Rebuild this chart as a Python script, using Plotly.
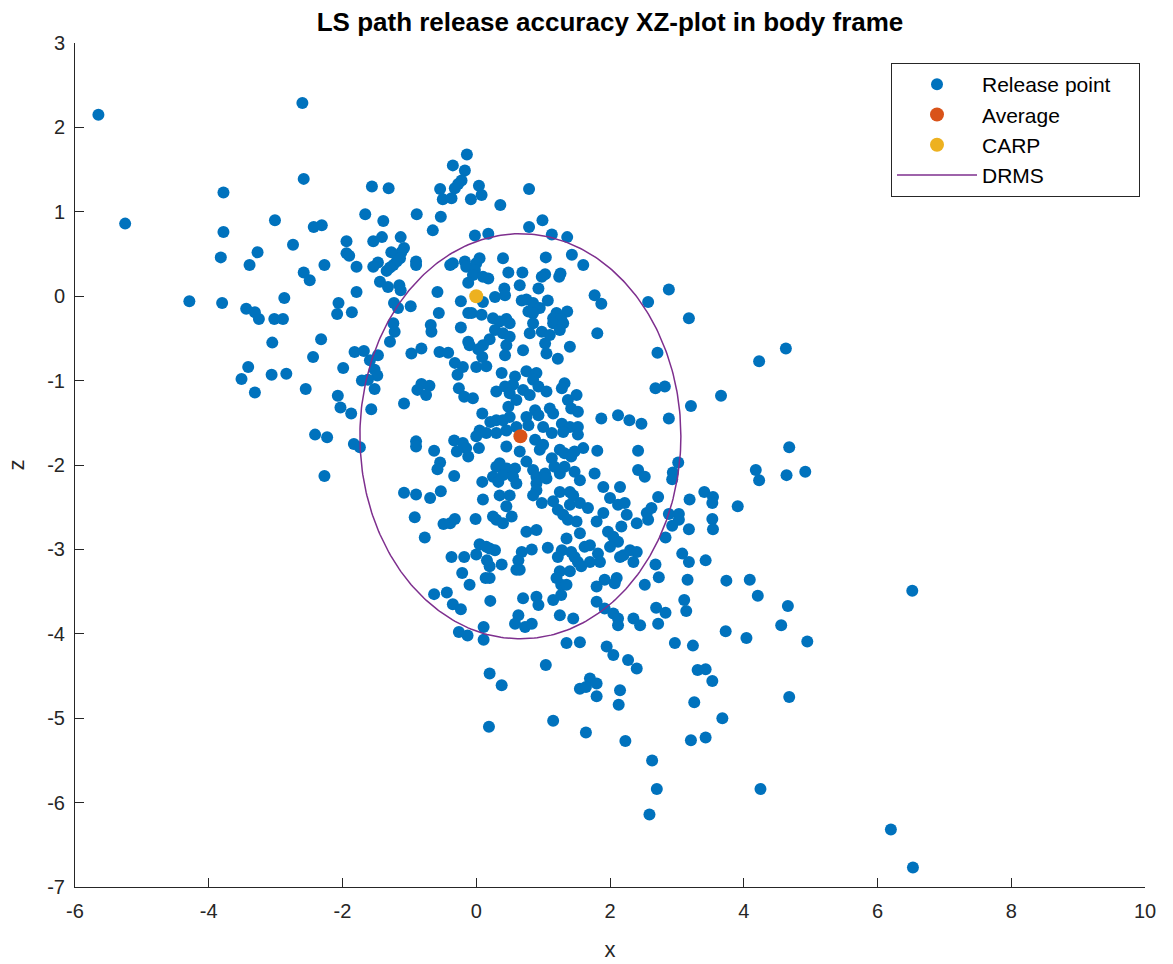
import numpy as np
import plotly.graph_objects as go

# Release points (x, z)
release_x = [
    -5.65, -2.60, -5.25, -2.58, -3.78, -3.01, -2.43, -2.31, -3.78, -2.74, -1.94, -3.27, -3.82, -1.94, -1.90, -3.39, -2.27, -1.79,
    -2.58, -2.49, -1.79, -4.29, -3.80, -2.87, -2.06, -2.08, -1.86, -3.44, -3.31, -3.25, -3.02, -2.89, -2.32, -3.05, -1.82, -2.44,
    -1.99, -3.41, -3.51, -3.06, -2.84, -3.31, -2.55, -1.71, -2.07, -2.03, -1.87, -2.41, -2.23, -1.83, -1.74, -2.27, -1.66, -1.68,
    -0.14, -0.35, -0.17, -0.22, -0.27, -0.32, 0.04, 0.08, -0.54, -1.56, -1.31, -0.50, -0.37, -0.08, 0.36, -0.89, -0.53, -1.39,
    -0.65, -0.02, 0.18, -1.13, -1.41, -1.54, -1.08, -1.12, -1.27, -1.14, -1.19, -1.24, -1.29, -1.34, -1.47, -1.54, -0.90, -0.90,
    -0.35, -0.39, -0.17, -0.15, 0.05, 0.00, -0.02, -0.05, 0.18, 0.10, -0.12, -1.44, -1.32, -1.15, -1.13, -0.58, -0.23, 0.10,
    0.28, -1.23, -1.17, -0.98, -0.56, -0.12, -0.07, 0.08,
    0.79, 0.99, 0.79, 1.13, 1.36, 0.40, 1.04, 1.43, 1.60, 0.48, 0.69, 1.03, 0.98, 1.26, 1.24, 0.65, 0.93, 0.42, 0.43, 1.77,
    1.87, 2.57, 0.68, 0.75, 0.85, 0.95, 1.07, 0.78, 0.85, 1.20, 1.36, 0.25, 0.45, 1.15, 1.27,
    -1.24, -1.22, -0.68, -0.67, -0.23, -1.29, -0.12, -0.10, 0.20, 0.10, 0.03, 0.09, -1.47, -0.97, -0.82, -0.55, -0.42, -1.59,
    -1.52, -1.48, -0.32, -0.20, -0.28, 0.00, 0.15, -1.62, -1.52, -0.82, -0.70, -0.88, -0.75, -0.26, -0.18, -0.05, 0.30, -1.08,
    -1.57, 0.09, 0.21, 0.05, 0.00, 0.15, 0.30, -0.90, -0.90, -0.33, -0.20, -0.15, -0.29, -0.12, 0.04, -0.63, -0.54, -0.58,
    -0.33, 0.09, 0.30, 0.25, 0.33, -1.08, -0.90, -0.53, -0.69, 0.35, 0.10,
    1.15, 1.30, 0.85, 0.98, 0.80, 1.10, 1.25, 0.35, 0.50, 0.28, 0.40, 0.50, 0.45, 0.43, 1.40, 0.70, 1.03, 1.05, 1.22, 1.81,
    0.38, 0.58, 0.75, 0.90, 0.85, 0.93, 1.05, 1.32, 1.28, 0.55, 0.43, 0.70, 0.80, 0.50, 0.48, 0.60, 1.37, 1.50, 1.42, 1.52,
    1.10, 1.15, 0.88, 0.93, 0.75, 0.50, 0.40, 1.87, 2.12, 2.29, 2.47,
    0.30, 0.45, 0.60, 0.78, 1.00, 1.28, 1.40, 1.52, 1.13, 1.30, 1.52, 0.88, 0.45, 0.65, 0.75, 0.95, 1.00, 1.13, 1.25, 1.32,
    1.47, 1.60, 1.81, 2.42, 1.42,
    0.35, 0.45, 0.58, 0.40, 0.55, 0.60, 0.85, 0.90, 1.03, 1.17, 1.25, 1.47, 1.32, 0.90, 0.90, 1.05, 1.55, 1.40, 1.25, 1.77,
    1.90, 2.15, 2.42, 2.52, 0.50, 0.85, 2.00,
    0.45, 0.53, 0.30, 0.40, 0.98, 1.15, 1.22, 1.30, 1.37, 1.45, 1.40, 1.55, 1.67, 1.50, 1.55, 1.80, 1.90, 2.12, 2.22, 2.25,
    2.40, 2.55,
    0.75, 0.90, 1.35, 1.07, 0.83, 0.68, 0.63, 0.65, 0.60, 0.20, 0.28, 0.38, 0.20, 1.28, 1.22, 1.42, 1.47, 1.52, 1.57, 1.62,
    1.70, 1.70, 1.82, 1.85, 1.97, 2.05, 2.12, 2.00, 2.17, 2.20, 2.30, 2.40, 2.35, 2.15, 1.25, 1.40,
    1.20, 1.27, 1.35, 1.92, 2.10, 2.07, 1.80, 2.52, 0.20, 0.70, 0.90, 0.93, 1.15, 1.27, 1.80, 1.92, 2.05, 2.12, 2.12, 2.35,
    2.45, 0.63, 0.58, 0.73, 0.83, 1.25, 1.45,
    1.35, 1.55, 1.95, 2.05, 2.27, 2.40, 1.04, 1.70, 1.80, 1.55, 0.38, 0.20,
    -0.92, -0.49, -0.39, -0.32, -0.01, 0.25, -0.77, 0.05, 0.15, -0.37, -0.18, 0.00, 0.16, -0.21, 0.14, -0.10, -0.63, -0.44,
    -0.35, -0.23, 0.21, -0.26, -0.13, 0.11, 0.11,
    2.88, 3.18, 2.71, 4.63, 4.23, 2.68, 2.82, 3.66, 3.21, 2.88, 4.68, 3.02, 2.94, 2.93, 4.18, 4.23, 4.64, 4.92, 3.41, 3.54,
    2.72, 3.19,
    3.53, 3.91, 2.62, 2.57, 2.88, 3.03, 3.03, 2.93, 3.18, 3.53, 3.54, 2.83, 3.08, 3.18, 3.43, 2.68, 2.73, 3.16, 3.74, 4.09,
    4.21, 3.11, 3.14, 2.69, 2.83, 4.66, 2.72, 4.56, 3.73, 4.04, 4.95, 2.97, 3.24, 3.31, 3.43, 3.53, 4.68, 3.26, 3.68, 3.21,
    3.43,
    0.19, 1.15, 1.64, 1.80, 1.64, 2.15, 2.13, 2.23, 2.63, 2.70, 2.59, 4.25, 6.20, 6.53, 6.52,
]
release_z = [
    2.15, 2.29, 0.86, 1.39, 1.23, 0.90, 0.82, 0.84, 0.76, 0.61, 0.65, 0.52, 0.46, 0.51, 0.48, 0.37, 0.37, 0.35,
    0.28, 0.19, 0.05, -0.06, -0.08, -0.02, -0.08, -0.21, -0.19, -0.15, -0.19, -0.27, -0.27, -0.27, -0.51, -0.55, -0.66, -0.72,
    -0.85, -0.84, -0.98, -0.93, -0.92, -1.14, -1.10, -1.00, -1.18, -1.32, -1.39, -1.64, -1.67, -1.75, -1.79, -2.13, 0.97, -0.65,
    1.68, 1.55, 1.49, 1.37, 1.33, 1.28, 1.31, 1.20, 1.27, 1.30, 1.28, 1.15, 1.16, 1.15, 1.08, 0.97, 0.94, 0.89,
    0.78, 0.72, 0.74, 0.70, 0.70, 0.65, 0.57, 0.52, 0.52, 0.45, 0.41, 0.37, 0.34, 0.30, 0.40, 0.35, 0.41, 0.37,
    0.39, 0.37, 0.41, 0.35, 0.45, 0.39, 0.31, 0.25, 0.21, 0.23, 0.16, 0.17, 0.11, 0.13, 0.07, 0.05, -0.06, -0.07,
    -0.01, -0.08, -0.14, -0.12, -0.20, -0.20, -0.20, -0.22,
    1.27, 0.90, 0.82, 0.73, 0.70, 0.45, 0.46, 0.49, 0.37, 0.28, 0.28, 0.26, 0.23, 0.27, 0.23, 0.13, 0.09, 0.09, 0.01, 0.01,
    -0.09, -0.07, -0.05, -0.04, -0.08, -0.14, -0.05, -0.18, -0.20, -0.20, -0.18, -0.26, -0.27, -0.26, -0.27,
    -0.32, -0.42, -0.34, -0.42, -0.37, -0.54, -0.54, -0.58, -0.51, -0.58, -0.63, -0.72, -0.70, -0.68, -0.62, -0.66, -0.67, -0.76,
    -0.87, -0.94, -0.79, -0.84, -0.93, -0.84, -0.83, -0.99, -1.10, -1.04, -1.06, -1.11, -1.17, -1.09, -1.19, -1.21, -1.13, -1.27,
    -1.34, -1.39, -1.49, -1.59, -1.66, -1.62, -1.47, -1.72, -1.78, -1.71, -1.74, -1.80, -1.84, -1.90, -1.80, -1.83, -1.97, -2.05,
    -2.13, -2.20, -2.02, -2.14, -2.20, -2.33, -2.35, -2.31, -2.39, -2.36, -2.41,
    -0.32, -0.32, -0.32, -0.42, -0.44, -0.46, -0.40, -0.30, -0.32, -0.40, -0.44, -0.48, -0.58, -0.70, -0.60, -0.64, -0.56, -0.68, -0.74, -0.44,
    -0.91, -0.95, -0.89, -0.91, -0.99, -1.07, -1.13, -1.03, -1.09, -1.05, -1.07, -1.11, -1.17, -1.15, -1.31, -1.23, -1.23, -1.17, -1.33, -1.37,
    -1.33, -1.39, -1.35, -1.41, -1.43, -1.43, -1.47, -1.45, -1.41, -1.47, -1.51,
    -1.62, -1.59, -1.55, -1.53, -1.55, -1.51, -1.55, -1.55, -1.62, -1.61, -1.64, -1.70, -1.78, -1.84, -1.96, -1.82, -1.76, -1.92, -1.82, -1.86,
    -1.84, -1.80, -1.83, -1.83, -1.90,
    -1.98, -2.04, -2.04, -2.12, -2.14, -2.22, -2.06, -2.14, -2.10, -2.02, -2.10, -2.08, -2.02, -2.22, -2.30, -2.16, -2.18, -2.32, -2.32, -2.10,
    -2.26, -2.26, -2.06, -2.14, -2.36, -2.36, -2.39,
    -2.49, -2.61, -2.65, -2.69, -2.45, -2.43, -2.53, -2.59, -2.65, -2.36, -2.47, -2.45, -2.51, -2.67, -2.81, -2.67, -2.57, -2.47, -2.45, -2.59,
    -2.69, -2.57,
    -2.79, -2.77, -2.87, -2.98, -3.00, -3.03, -3.13, -3.24, -3.24, -2.99, -3.01, -3.18, -3.20, -3.01, -3.09, -3.03, -3.09, -3.15, -3.20, -2.97,
    -2.95, -3.15, -3.05, -3.15, -2.79, -2.85, -2.91, -2.97, -2.73, -3.07, -3.01, -3.03, -3.15, -3.09, -3.26, -3.26,
    -3.34, -3.42, -3.42, -3.36, -3.34, -3.40, -3.44, -3.42, -3.34, -3.58, -3.56, -3.66, -3.60, -3.54, -3.62, -3.70, -3.76, -3.82, -3.90, -3.82,
    -3.90, -3.78, -3.88, -3.92, -3.88, -3.78, -3.82,
    -4.11, -4.10, -4.15, -4.25, -4.31, -4.41, -4.37, -4.53, -4.59, -4.65, -4.61, -4.47,
    -2.62, -2.70, -2.69, -2.64, -2.64, -2.61, -2.86, -2.94, -2.97, -3.09, -3.09, -3.06, -3.13, -3.28, -3.34, -3.42, -3.53, -3.51,
    -3.65, -3.71, -3.61, -3.98, -4.02, -3.92, -4.07,
    0.08, -0.26, -0.67, -0.62, -0.77, -1.09, -1.07, -1.18, -1.30, -1.45, -1.79, -1.97, -2.09, -2.17, -2.06, -2.18, -2.12, -2.08, -2.32, -2.38,
    -2.38, -2.41,
    -2.45, -2.49, -2.51, -2.65, -2.58, -2.58, -2.65, -2.72, -2.76, -2.64, -2.76, -2.86, -3.05, -3.15, -3.13, -3.18, -3.33, -3.36, -3.37, -3.36,
    -3.55, -3.60, -3.73, -3.69, -3.75, -3.67, -3.88, -3.90, -3.97, -4.05, -4.09, -4.11, -4.14, -4.43, -4.42, -4.56, -4.75, -4.81, -5.00, -5.26,
    -5.23,
    -5.10, -5.03, -4.63, -4.74, -5.17, -4.67, -4.84, -5.27, -5.50, -5.84, -6.14, -5.84, -6.32, -6.77, -3.49,
]

average_x = [0.66]
average_z = [-1.66]
carp_x = [0.0]
carp_z = [0.0]
drms_radius = 2.40

legend_names = ["Release point", "Average", "CARP", "DRMS"]
x_tick_vals = [-6, -4, -2, 0, 2, 4, 6, 8, 10]
x_tick_text = ["-6", "-4", "-2", "0", "2", "4", "6", "8", "10"]
z_tick_vals = [-7, -6, -5, -4, -3, -2, -1, 0, 1, 2, 3]
z_tick_text = ["-7", "-6", "-5", "-4", "-3", "-2", "-1", "0", "1", "2", "3"]

theta = np.linspace(0, 2 * np.pi, 361)
circle_x = average_x[0] + drms_radius * np.cos(theta)
circle_z = average_z[0] + drms_radius * np.sin(theta)

BLUE = "#0072BD"
ORANGE = "#D95319"
YELLOW = "#EDB120"
PURPLE = "#7E2F8E"
AX = "#262626"
FONT = "Liberation Sans, Arial, sans-serif"
PAD = "\u00a0" * 4  # extra right padding inside the legend box

fig = go.Figure()
fig.add_trace(go.Scatter(x=release_x, y=release_z, mode="markers", name=legend_names[0] + PAD,
                         marker=dict(color=BLUE, size=12, line=dict(width=0))))
fig.add_trace(go.Scatter(x=average_x, y=average_z, mode="markers", name=legend_names[1],
                         marker=dict(color=ORANGE, size=14, line=dict(width=0))))
fig.add_trace(go.Scatter(x=carp_x, y=carp_z, mode="markers", name=legend_names[2],
                         marker=dict(color=YELLOW, size=14, line=dict(width=0))))
fig.add_trace(go.Scatter(x=circle_x, y=circle_z, mode="lines", name=legend_names[3],
                         line=dict(color=PURPLE, width=1.5)))

axis_common = dict(
    showgrid=False, zeroline=False, showline=True, linecolor=AX, linewidth=1,
    ticks="inside", ticklen=9, tickcolor=AX, tickwidth=1, mirror=False,
    tickfont=dict(family=FONT, size=20, color=AX), automargin=False,
)

fig.update_layout(
    width=1173, height=964,
    margin=dict(l=75, r=28, t=43, b=77),
    paper_bgcolor="white", plot_bgcolor="white",
    title=dict(text="<b>LS path release accuracy XZ-plot in body frame</b>",
               x=(75 + 1070 / 2) / 1173, xanchor="center", y=1 - 22 / 964, yanchor="middle",
               font=dict(family=FONT, size=26, color="black")),
    xaxis=dict(range=[-6, 10], tickvals=x_tick_vals, ticktext=x_tick_text,
               ticklabelstandoff=6,
               title=dict(text="x", font=dict(family=FONT, size=22, color=AX), standoff=20),
               **axis_common),
    yaxis=dict(range=[-7, 3], tickvals=z_tick_vals, ticktext=z_tick_text,
               ticklabelstandoff=5,
               title=dict(text="z", font=dict(family=FONT, size=22, color=AX), standoff=16),
               **axis_common),
    legend=dict(x=(1140 - 75) / 1070, xanchor="right", y=(887 - 63) / 844, yanchor="top",
                bgcolor="white", bordercolor=AX, borderwidth=1,
                font=dict(family=FONT, size=21, color="black"),
                itemwidth=80, tracegroupgap=0),
    showlegend=True,
)

fig.write_html("out.html")
